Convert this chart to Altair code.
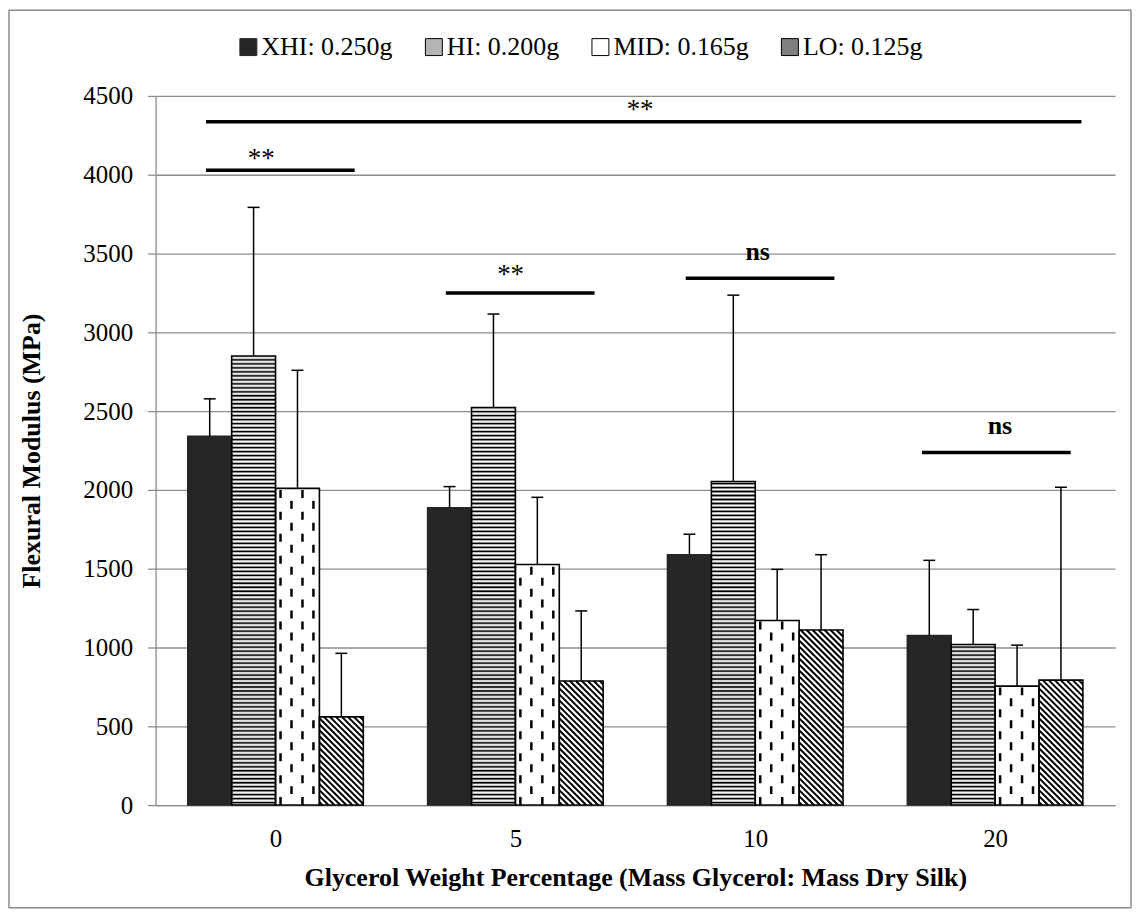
import altair as alt
import pandas as pd

# ---------------- data ----------------
groups = ["0", "5", "10", "20"]
series = ["XHI: 0.250g", "HI: 0.200g", "MID: 0.165g", "LO: 0.125g"]

xhi = [2340, 1886, 1589, 1076]
hi = [2850, 2523, 2053, 1019]
mid = [2010, 1527, 1171, 755]
lo = [560, 787, 1111, 793]

xhi_err = [238, 135, 130, 477]
hi_err = [943, 593, 1183, 222]
mid_err = [749, 426, 325, 260]
lo_err = [403, 445, 478, 1224]

# significance annotations (x in group-index units, y in MPa)
sig_labels = ["**", "**", "ns", "ns", "**"]
sig_start = [-0.29, 0.71, 1.71, 2.695, -0.29]
sig_end = [0.33, 1.33, 2.33, 3.315, 3.36]
sig_level = [4028, 3249, 3344, 2238, 4337]
sig_text_x = [-0.06, 0.98, 2.01, 3.02, 1.52]
sig_text_y = [4048, 3310, 3457, 2354, 4362]

# ---------------- layout constants ----------------
W, H = 962, 711
YMAX = 4500
SERIF = "Liberation Serif"
GRAY = "#8c8c8c"
px_x = W / len(groups)          # pixels per group unit
px_y = H / YMAX                 # pixels per MPa
BAR_PX = 44
BW = BAR_PX / px_x

values = [xhi, hi, mid, lo]
errors = [xhi_err, hi_err, mid_err, lo_err]

rows = []
for si, name in enumerate(series):
    for gi, g in enumerate(groups):
        left = gi + (si - 2) * BW
        v = values[si][gi]
        rows.append(dict(series=name, group=g, si=si, left=left, right=left + BW,
                         center=left + BW / 2, cap1=left + BW / 2 - 6 / px_x,
                         cap2=left + BW / 2 + 6 / px_x, base=0, value=v,
                         top=v + errors[si][gi]))
bars = pd.DataFrame(rows)

# HI: horizontal stripes
dark_rows, light_rows = [], []
step = 4 / px_y
for _, r in bars[bars.si == 1].iterrows():
    y = step * 0.6
    while y < r.value - 0.3 * step:
        dark_rows.append(dict(left=r.left, right=r.right, y=y))
        if y + step / 2 < r.value:
            light_rows.append(dict(left=r.left, right=r.right, y=y + step / 2))
        y += step
hi_dark = pd.DataFrame(dark_rows)
hi_light = pd.DataFrame(light_rows)

# MID: vertical dashed lines
dash_rows = []
for _, r in bars[bars.si == 2].iterrows():
    for k, off in enumerate([5, 16, 27, 38]):
        dash_rows.append(dict(x=r.left + off / px_x, y=0, y2=r.value, phase=k % 2))
mid_dash = pd.DataFrame(dash_rows)

# LO: diagonal hatch "\"
hatch_rows = []
for _, r in bars[bars.si == 3].iterrows():
    hpx = r.value * px_y
    c = 3.0
    while c < BAR_PX + hpx:
        u0 = max(0.0, c - hpx)
        u1 = min(float(BAR_PX), c)
        hatch_rows.append(dict(x=r.left + u0 / px_x, y=(c - u0) / px_y,
                               x2=r.left + u1 / px_x, y2=(c - u1) / px_y))
        c += 6
lo_hatch = pd.DataFrame(hatch_rows)

sig = pd.DataFrame(dict(label=sig_labels, x1=sig_start, x2=sig_end, y=sig_level,
                        tx=sig_text_x, ty=sig_text_y))

# ---------------- scales / axes ----------------
xscale = alt.Scale(domain=[-0.5, len(groups) - 0.5], nice=False, zero=False)
yscale = alt.Scale(domain=[0, YMAX], nice=False)
label_expr = "[" + ",".join(f"'{g}'" for g in groups) + "][datum.value]"

xaxis = alt.Axis(values=list(range(len(groups))), labelExpr=label_expr, grid=False,
                 ticks=False, tickSize=0, domainColor=GRAY, domainWidth=1.3,
                 labelFont=SERIF, labelFontSize=25, labelColor="black", labelPadding=22,
                 title="Glycerol Weight Percentage (Mass Glycerol: Mass Dry Silk)",
                 titleFont=SERIF, titleFontSize=26, titleFontWeight="bold",
                 titleColor="black", titlePadding=13)
yaxis = alt.Axis(values=list(range(0, YMAX + 1, 500)), format="d", grid=True,
                 gridColor=GRAY, gridWidth=1.3, domainColor=GRAY, domainWidth=1.3,
                 tickColor=GRAY, tickWidth=1.3, tickSize=8, labelFont=SERIF,
                 labelFontSize=25, labelColor="black", labelPadding=15,
                 title="Flexural Modulus (MPa)", titleFont=SERIF, titleFontSize=26,
                 titleFontWeight="bold", titleColor="black", titlePadding=38)


def X(f):
    return alt.X(f, type="quantitative", scale=xscale, axis=xaxis)


def Y(f):
    return alt.Y(f, type="quantitative", scale=yscale, axis=yaxis)


# ---------------- layers ----------------
base_bars = alt.Chart(bars).mark_rect(strokeWidth=0).encode(
    x=X("left"), x2="right", y=Y("value"), y2="base",
    fill=alt.Fill("series:N", scale=alt.Scale(domain=series,
                  range=["#262626", "#b4b4b4", "#ffffff", "#808080"]),
                  legend=alt.Legend(title=None, orient="none", legendX=80, legendY=-62,
                                    direction="horizontal", symbolType="square",
                                    symbolSize=289, symbolStrokeColor="black",
                                    symbolStrokeWidth=1, symbolOpacity=1,
                                    labelFont=SERIF, labelFontSize=26,
                                    labelColor="black", labelOffset=0,
                                    columnPadding=28, padding=0)),
)

lo_white = alt.Chart(bars[bars.si == 3]).mark_rect(fill="white", strokeWidth=0).encode(
    x=X("left"), x2="right", y=Y("value"), y2="base")

hi_dark_layer = alt.Chart(hi_dark).mark_rule(color="black", strokeWidth=1.3).encode(
    x=X("left"), x2="right", y=Y("y"))
hi_light_layer = alt.Chart(hi_light).mark_rule(color="white", strokeWidth=1).encode(
    x=X("left"), x2="right", y=Y("y"))

mid_a = alt.Chart(mid_dash[mid_dash.phase == 0]).mark_rule(
    color="black", strokeWidth=2.5, strokeDash=[8, 14]).encode(
    x=X("x"), y=Y("y"), y2="y2")
mid_b = alt.Chart(mid_dash[mid_dash.phase == 1]).mark_rule(
    color="black", strokeWidth=2.5, strokeDash=[8, 14], strokeDashOffset=11).encode(
    x=X("x"), y=Y("y"), y2="y2")

lo_layer = alt.Chart(lo_hatch).mark_rule(color="black", strokeWidth=2).encode(
    x=X("x"), x2="x2", y=Y("y"), y2="y2")

outline = alt.Chart(bars).mark_rect(fillOpacity=0, strokeWidth=1.6).encode(
    x=X("left"), x2="right", y=Y("value"), y2="base",
    stroke=alt.Stroke("series:N", scale=alt.Scale(domain=series,
                      range=["#262626", "black", "black", "black"]), legend=None),
)

err_line = alt.Chart(bars).mark_rule(color="black", strokeWidth=1.5).encode(
    x=X("center"), y=Y("value"), y2="top")
err_cap = alt.Chart(bars).mark_rule(color="black", strokeWidth=1.5).encode(
    x=X("cap1"), x2="cap2", y=Y("top"))

sig_lines = alt.Chart(sig).mark_rule(color="black", strokeWidth=3.5).encode(
    x=X("x1"), x2="x2", y=Y("y"))
sig_star = alt.Chart(sig[sig.label == "**"]).mark_text(
    font=SERIF, fontSize=27, color="black", align="center", baseline="alphabetic").encode(
    x=X("tx"), y=Y("ty"), text="label:N")
sig_ns = alt.Chart(sig[sig.label == "ns"]).mark_text(
    font=SERIF, fontSize=26, fontWeight="bold", color="black", align="center",
    baseline="alphabetic").encode(x=X("tx"), y=Y("ty"), text="label:N")

frame = alt.Chart(pd.DataFrame({"a": [0]})).mark_rect(
    fillOpacity=0, stroke=GRAY, strokeWidth=1.5).encode(
    x=alt.value(-147), x2=alt.value(978), y=alt.value(-86), y2=alt.value(814))

chart = alt.layer(
    frame, base_bars, lo_white, hi_dark_layer, hi_light_layer, mid_a, mid_b,
    lo_layer, outline, err_line, err_cap, sig_lines, sig_star, sig_ns
).properties(width=W, height=H, padding=0).configure_view(strokeWidth=0)

chart.save("out.html", embed_options={"renderer": "svg", "actions": False})
